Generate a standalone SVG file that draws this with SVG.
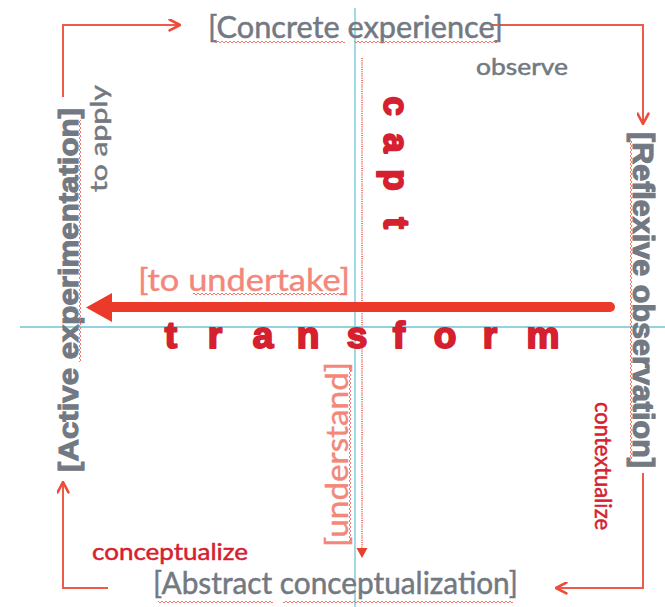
<svg xmlns="http://www.w3.org/2000/svg" width="665" height="607" viewBox="0 0 665 607">
  <style>
    .gray { fill: #737982; stroke: #737982; stroke-width: 0.5; font-family: Lato, "Liberation Sans", sans-serif; }
    .grayb { fill: #737982; stroke: #737982; stroke-width: 1.1; font-family: "Liberation Sans", Arial, sans-serif; font-weight: bold; }
    .salmon { fill: #f2877a; stroke: #f2877a; stroke-width: 0.4; font-family: Lato, "Liberation Sans", sans-serif; }
    .red { fill: #d5212f; stroke: #d5212f; stroke-width: 0.5; font-family: Lato, "Liberation Sans", sans-serif; }
    .heavy { fill: #d5212f; stroke: #d5212f; stroke-width: 2; stroke-linejoin: round; font-family: "Liberation Sans", Arial, sans-serif; font-weight: bold; }
    .axis { stroke: #6cc6d2; stroke-width: 1.3; fill: none; }
    .flow { stroke: #ef5b4b; stroke-width: 2; fill: none; }
    .wavy { fill: url(#squiggle); }
  </style>
  <defs>
    <pattern id="squiggle" width="4" height="4" patternUnits="userSpaceOnUse">
      <path d="M0,3 L2,1 L4,3" fill="none" stroke="#f06a5e" stroke-width="0.9"/>
    </pattern>
    <marker id="chev" viewBox="0 0 10 10" refX="9" refY="5" markerWidth="13" markerHeight="13" markerUnits="userSpaceOnUse" orient="auto">
      <path d="M1,0.8 L9,5 L1,9.2" fill="none" stroke="#ef4a3a" stroke-width="2" stroke-linecap="round" stroke-linejoin="round"/>
    </marker>
  </defs>

  <!-- quadrant axes -->
  <g id="axes">
    <line class="axis" x1="355" y1="8" x2="355" y2="607"/>
    <line class="axis" x1="20" y1="327" x2="665" y2="327"/>
  </g>

  <!-- cycle connectors -->
  <g id="connectors">
    <path class="flow" d="M63,97 V25 H180" marker-end="url(#chev)"/>
    <path class="flow" d="M492,25 H643 V124" marker-end="url(#chev)"/>
    <path class="flow" d="M643,473 V588 H556" marker-end="url(#chev)"/>
    <path class="flow" d="M108,588 H63 V482" marker-end="url(#chev)"/>
    <!-- capture / understand path -->
    <line x1="362" y1="58" x2="362" y2="549" stroke="#f07a70" stroke-width="2" stroke-dasharray="1 1.2"/>
    <path d="M356.5,548 L367.5,548 L362,558 Z" fill="#e8402f"/>
    <!-- undertake arrow -->
    <line x1="610" y1="307" x2="108" y2="307" stroke="#ec3a2a" stroke-width="10" stroke-linecap="round"/>
    <path d="M86,307.5 L112,293 L112,322 Z" fill="#ec3a2a"/>
  </g>

  <g id="concrete-experience">
    <text class="gray" x="208" y="38" font-size="31" textLength="295" lengthAdjust="spacingAndGlyphs">[Concrete experience]</text>
    <rect class="wavy" x="215" y="41" width="130" height="4"/>
    <rect class="wavy" x="354" y="41" width="145" height="4"/>
  </g>

  <g id="observe">
    <text class="gray" x="476" y="75" font-size="23" textLength="92" lengthAdjust="spacingAndGlyphs">observe</text>
  </g>

  <g id="reflexive-observation" transform="translate(633,132) rotate(90)">
    <text class="grayb" x="0" y="0" font-size="29" textLength="336" lengthAdjust="spacingAndGlyphs">[Reflexive observation]</text>
    <rect class="wavy" x="8" y="1" width="322" height="4"/>
  </g>

  <g id="contextualize" transform="translate(595,402) rotate(90)">
    <text class="red" x="0" y="0" font-size="23" textLength="128" lengthAdjust="spacingAndGlyphs">contextualize</text>
  </g>

  <g id="abstract-conceptualization">
    <text class="gray" x="153" y="594" font-size="31" textLength="365" lengthAdjust="spacingAndGlyphs">[Abstract conceptualization]</text>
    <rect class="wavy" x="158" y="601" width="115" height="4"/>
    <rect class="wavy" x="283" y="601" width="230" height="4"/>
  </g>

  <g id="conceptualize">
    <text class="red" x="92" y="560" font-size="24" textLength="156" lengthAdjust="spacingAndGlyphs">conceptualize</text>
  </g>

  <g id="active-experimentation" transform="translate(78,472) rotate(-90)">
    <text class="grayb" x="0" y="0" font-size="28" textLength="364" lengthAdjust="spacingAndGlyphs">[Active experimentation]</text>
    <rect class="wavy" x="110" y="1" width="242" height="4"/>
  </g>

  <g id="to-apply" transform="translate(107,192) rotate(-90)">
    <text class="gray" x="0" y="0" font-size="24" textLength="107" lengthAdjust="spacingAndGlyphs">to apply</text>
  </g>

  <g id="to-undertake">
    <text class="salmon" x="138" y="291" font-size="30" textLength="212" lengthAdjust="spacingAndGlyphs">[to undertake]</text>
    <rect class="wavy" x="193" y="293" width="153" height="4"/>
  </g>

  <g id="understand" transform="translate(348,547) rotate(-90)">
    <text class="salmon" x="0" y="0" font-size="30" textLength="185" lengthAdjust="spacingAndGlyphs">[understand]</text>
    <rect class="wavy" x="6" y="1" width="176" height="4"/>
  </g>

  <g id="capt" transform="translate(384,0) rotate(90)">
    <text class="heavy" x="106 143 180 223" y="0" font-size="35" text-anchor="middle">capt</text>
  </g>

  <g id="transform">
    <text class="heavy" x="171 215 263 308 357 399 445 490 543" y="348" font-size="37" text-anchor="middle">transform</text>
  </g>
</svg>
